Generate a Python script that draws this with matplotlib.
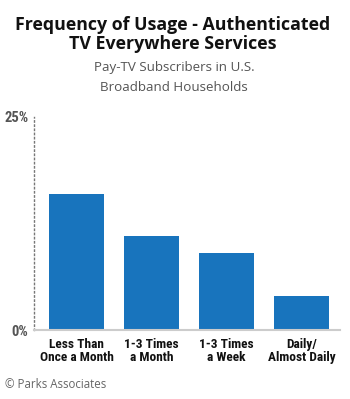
import matplotlib
matplotlib.use("Agg")
import matplotlib.pyplot as plt
import logging
logging.getLogger("matplotlib.font_manager").setLevel(logging.ERROR)

categories = ["Less Than\nOnce a Month", "1-3 Times\na Month", "1-3 Times\na Week", "Daily/\nAlmost Daily"]
values = [16, 11, 9, 4]
yticks = [0, 25]
ytick_labels = ["0%", "25%"]

COND = ["Roboto Condensed", "PT Sans Narrow", "Roboto"]
TITLE = ["Open Sans"]

fig = plt.figure(figsize=(3.5, 3.99), dpi=100)
ax = fig.add_axes([34/350, 69/399, 306/350, 213/399])

x = list(range(len(categories)))
ax.bar(x, values, width=0.733, color="#1874bd", zorder=2)
ax.set_xlim(-0.567, 3.513)
ax.set_ylim(0, 25)

ax.set_yticks(yticks)
ax.set_yticklabels(ytick_labels, fontsize=10.5, fontweight="bold", color="#555555", family=COND)
ax.set_xticks(x)
ax.set_xticklabels(categories, fontsize=9.6, fontweight="bold", color="#111111",
                   family=COND, linespacing=1.0)
ax.tick_params(axis="x", length=0, pad=6)
ax.tick_params(axis="y", length=0, pad=4)

for s in ["top", "right"]:
    ax.spines[s].set_visible(False)
ax.spines["left"].set_linestyle((0, (1, 2)))
ax.spines["left"].set_color("#777777")
ax.spines["left"].set_linewidth(1.0)
ax.spines["bottom"].set_color("#cccccc")
ax.spines["bottom"].set_linewidth(1.5)

fig.text(0.494, 1 - 30/399, "Frequency of Usage - Authenticated", ha="center", va="baseline",
         fontsize=12.8, fontweight="bold", family=TITLE, color="#111111")
fig.text(0.494, 1 - 49/399, "TV Everywhere Services", ha="center", va="baseline",
         fontsize=12.8, fontweight="bold", family=TITLE, color="#111111")
fig.text(0.497, 1 - 71/399, "Pay-TV Subscribers in U.S.", ha="center", va="baseline",
         fontsize=9.6, family=TITLE, color="#555555")
fig.text(0.497, 1 - 91/399, "Broadband Households", ha="center", va="baseline",
         fontsize=9.6, family=TITLE, color="#555555")
fig.text(5/350, 1 - 388/399, "© Parks Associates", ha="left", va="baseline",
         fontsize=8.3, family=TITLE, color="#666666")

fig.savefig("out.png", dpi=100)
